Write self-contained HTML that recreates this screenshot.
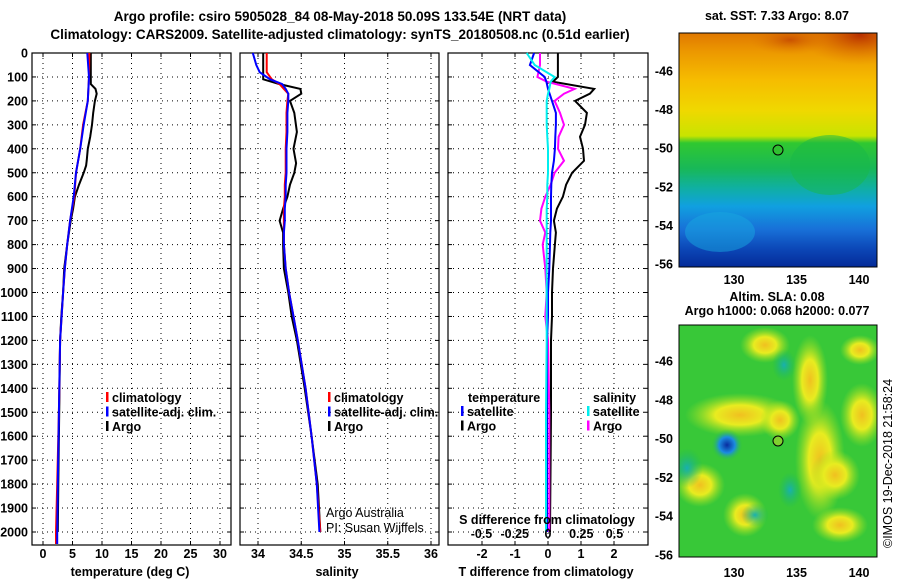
<!DOCTYPE html>
<html><head><meta charset="utf-8"><style>
body{margin:0;background:#fff;}
svg{display:block;font-family:"Liberation Sans",Arial,sans-serif;}
.b{font-weight:bold;font-size:12.5px;}
.n{font-size:12.5px;}
.t{font-weight:bold;font-size:13.5px;}
</style></head><body>
<svg id="chart" width="900" height="580" viewBox="0 0 900 580">
<defs>
<linearGradient id="sst" x1="0" y1="0" x2="0" y2="1">
<stop offset="0" stop-color="#e07800"/><stop offset="0.08" stop-color="#ec9800"/><stop offset="0.2" stop-color="#f6bc00"/>
<stop offset="0.33" stop-color="#f0d800"/><stop offset="0.44" stop-color="#c8e400"/><stop offset="0.47" stop-color="#30c830"/>
<stop offset="0.58" stop-color="#18b858"/><stop offset="0.66" stop-color="#10b0a0"/><stop offset="0.74" stop-color="#10a0e0"/>
<stop offset="0.84" stop-color="#1870d8"/><stop offset="0.92" stop-color="#0c48b8"/><stop offset="1" stop-color="#042a98"/>
</linearGradient>
<radialGradient id="redblob"><stop offset="0" stop-color="#b83000"/><stop offset="1" stop-color="#e07800" stop-opacity="0"/></radialGradient>
<radialGradient id="blueblob"><stop offset="0" stop-color="#082ca0"/><stop offset="0.5" stop-color="#1c8ce0"/><stop offset="1" stop-color="#30c830" stop-opacity="0"/></radialGradient>
<radialGradient id="yblob"><stop offset="0" stop-color="#f0c020"/><stop offset="0.45" stop-color="#e8ec20"/><stop offset="1" stop-color="#a0e020" stop-opacity="0"/></radialGradient>
<radialGradient id="cblob"><stop offset="0" stop-color="#18b0b0"/><stop offset="1" stop-color="#18b860" stop-opacity="0"/></radialGradient>
<clipPath id="m1clip"><rect x="679" y="33" width="198" height="234"/></clipPath>
<clipPath id="m2clip"><rect x="679" y="325" width="198" height="232"/></clipPath>
</defs>
<text x="340" y="21" text-anchor="middle" class="t">Argo profile: csiro 5905028_84 08-May-2018 50.09S 133.54E (NRT data)</text>
<text x="340" y="39" text-anchor="middle" class="t">Climatology: CARS2009. Satellite-adjusted climatology: synTS_20180508.nc (0.51d earlier)</text>
<g id="plots"></g>
<g>
<g clip-path="url(#m1clip)">
<rect x="679" y="33" width="198" height="234" fill="url(#sst)"/>
<ellipse cx="860" cy="35" rx="60" ry="30" fill="url(#redblob)"/>
<ellipse cx="790" cy="40" rx="40" ry="15" fill="url(#redblob)" opacity="0.6"/>
<ellipse cx="720" cy="232" rx="35" ry="20" fill="#18a8e0" opacity="0.5"/>
<ellipse cx="830" cy="165" rx="40" ry="30" fill="#18b848" opacity="0.5"/>
</g>
<circle cx="778" cy="150" r="5" fill="#30c030" stroke="#000"/>
<rect x="679" y="33" width="198" height="234" fill="none" stroke="#000"/>
</g>
<g>
<g clip-path="url(#m2clip)">
<rect x="679" y="325" width="198" height="232" fill="#38c838"/>
<ellipse cx="740" cy="415" rx="55" ry="22" fill="url(#yblob)"/>
<ellipse cx="780" cy="420" rx="20" ry="20" fill="url(#yblob)"/>
<ellipse cx="810" cy="380" rx="18" ry="45" fill="url(#yblob)"/>
<ellipse cx="820" cy="460" rx="25" ry="60" fill="url(#yblob)"/>
<ellipse cx="835" cy="475" rx="25" ry="25" fill="url(#yblob)"/>
<ellipse cx="862" cy="415" rx="22" ry="32" fill="url(#yblob)"/>
<ellipse cx="840" cy="525" rx="28" ry="18" fill="url(#yblob)"/>
<ellipse cx="745" cy="515" rx="22" ry="22" fill="url(#yblob)"/>
<ellipse cx="700" cy="485" rx="25" ry="22" fill="url(#yblob)"/>
<ellipse cx="765" cy="345" rx="25" ry="18" fill="url(#yblob)"/>
<ellipse cx="860" cy="350" rx="20" ry="15" fill="url(#yblob)"/>
<ellipse cx="727" cy="445" rx="16" ry="16" fill="url(#blueblob)"/>
<ellipse cx="687" cy="468" rx="16" ry="20" fill="url(#cblob)"/>
<ellipse cx="784" cy="365" rx="12" ry="16" fill="url(#cblob)"/>
<ellipse cx="790" cy="490" rx="12" ry="18" fill="url(#cblob)"/>
<ellipse cx="755" cy="515" rx="14" ry="12" fill="url(#cblob)"/>
</g>
<circle cx="778" cy="441" r="5" fill="#80d030" stroke="#000"/>
<rect x="679" y="325" width="198" height="232" fill="none" stroke="#000"/>
</g>
<text x="777" y="20" text-anchor="middle" class="b">sat. SST: 7.33 Argo: 8.07</text>
<text x="777" y="301" text-anchor="middle" class="b">Altim. SLA: 0.08</text>
<text x="777" y="315" text-anchor="middle" class="b">Argo h1000: 0.068 h2000: 0.077</text>
<text transform="translate(892,548) rotate(-90)" font-size="12.5">©IMOS 19-Dec-2018 21:58:24</text>
</svg>
<script>
// ---- profile data ----
const tDepth   = [0,100,130,150,170,200,250,300,350,400,450,470,500,550,600,650,700,800,900,1000,1100,1200,1400,1600,1800,2000];
const tArgo    = [8.1,8.1,8.1,8.9,9.1,8.8,8.5,8.3,8.0,7.6,7.4,7.3,6.9,6.1,5.4,5.1,4.7,4.1,3.6,3.4,3.1,2.9,2.8,2.7,2.6,2.5];
const cDepth   = [0,100,200,300,400,500,600,700,800,900,1000,1200,1500,1800,2000,2050];
const tClim    = [7.85,7.8,7.6,6.8,6.3,5.6,5.3,4.6,4.1,3.7,3.4,2.9,2.7,2.4,2.2,2.2];
const tSat     = [7.5,7.8,7.6,6.9,6.3,5.6,5.2,4.6,4.1,3.7,3.4,2.9,2.7,2.5,2.4,2.4];
const sDepth   = [0,50,80,110,130,150,170,200,250,330,400,460,500,550,600,650,700,750,800,900,1000,1100,1200,1400,1600,1800,2000];
const sArgo    = [34.06,34.06,34.06,34.06,34.25,34.49,34.5,34.37,34.42,34.45,34.41,34.44,34.42,34.37,34.34,34.29,34.25,34.29,34.29,34.30,34.35,34.39,34.45,34.54,34.62,34.69,34.72];
const sClim    = [34.10,34.10,34.10,34.16,34.25,34.30,34.35,34.34,34.33,34.33,34.32,34.32,34.32,34.31,34.31,34.30,34.30,34.30,34.30,34.32,34.36,34.41,34.46,34.55,34.62,34.68,34.72];
const sSat     = [33.94,33.98,34.02,34.14,34.28,34.32,34.35,34.35,34.34,34.34,34.33,34.33,34.33,34.32,34.32,34.31,34.31,34.30,34.30,34.32,34.36,34.41,34.46,34.55,34.62,34.68,34.71];
const dDepth   = [0,50,100,120,150,170,200,250,300,350,400,450,500,550,600,650,700,750,800,900,1000,1100,1200,1500,2000];
const dTArgo   = [0.3,0.3,0.3,0.15,1.4,1.27,0.82,1.18,1.12,0.97,1.06,1.09,0.73,0.55,0.45,0.27,0.18,0.24,0.21,0.15,0.12,0.12,0.09,0.09,0.06];
const dTSat    = [-0.42,-0.55,-0.1,-0.05,0.0,0.05,0.12,0.24,0.24,0.22,0.21,0.18,0.12,0.1,0.09,0.09,0.09,0.07,0.06,0.04,0.0,0.0,-0.03,-0.03,-0.03];
const dSArgo   = [-0.06,-0.06,-0.08,-0.01,0.2,0.12,0.05,0.09,0.12,0.08,0.075,0.12,0.05,0.02,-0.02,-0.05,-0.06,-0.02,-0.04,-0.02,-0.01,-0.02,0.0,0.01,0.01];
const dSSat    = [-0.16,-0.1,0.05,0.02,0.01,0.0,-0.01,-0.01,-0.01,-0.005,0.0,0.0,0.0,-0.005,-0.005,-0.01,-0.01,-0.01,-0.01,-0.01,-0.01,-0.01,-0.01,-0.015,-0.015];
const depthTicks = [0,100,200,300,400,500,600,700,800,900,1000,1100,1200,1300,1400,1500,1600,1700,1800,1900,2000];
const tTicks   = [0,5,10,15,20,25,30];
const sTicks   = [34,34.5,35,35.5,36];
const sTickLabels = ["34","34.5","35","35.5","36"];
const dtTicks  = [-2,-1,0,1,2];
const dsTicks  = [-0.5,-0.25,0,0.25,0.5];
const dsTickLabels = ["-0.5","-0.25","0","0.25","0.5"];
const latTicks = [-46,-48,-50,-52,-54,-56];
const lonTicks = [130,135,140];

const NS='http://www.w3.org/2000/svg';
const g=document.getElementById('plots');
function mk(tag,attrs,parent){const e=document.createElementNS(NS,tag);for(const k in attrs)e.setAttribute(k,attrs[k]);(parent||g).appendChild(e);return e;}
const TOP=53,BOT=545;
const yD=d=>TOP+d*0.2395;
const xT=v=>43+v*5.9;
const xS=v=>258+(v-34)*86.5;
const xDT=v=>548+v*33;
const xDS=v=>548+v*133;
const lonX=v=>679+(v-125.6)*12.5;
const lat1=v=>71+(-46-v)*19.3;
const lat2=v=>361+(-46-v)*19.4;

function panel(name,x0,x1,xTicksPx,labels,showY){
  const pg=mk('g',{});
  
  
  depthTicks.forEach((d,i)=>{
    const l=mk('line',{x1:x0,x2:x1,y1:yD(d),y2:yD(d),stroke:'#000','stroke-dasharray':'1,4'},pg);
    
    
    mk('line',{x1:x0,x2:x0+4,y1:yD(d),y2:yD(d),stroke:'#000'},pg);
    mk('line',{x1:x1-4,x2:x1,y1:yD(d),y2:yD(d),stroke:'#000'},pg);
    if(showY){const t=mk('text',{x:28,y:yD(d)+4.5,'text-anchor':'end',class:'b'},pg);t.textContent=d;
      
      }
  });
  xTicksPx.forEach((px,i)=>{
    mk('line',{x1:px,x2:px,y1:TOP,y2:BOT,stroke:'#000','stroke-dasharray':'1,4'},pg);
    mk('line',{x1:px,x2:px,y1:BOT-4,y2:BOT,stroke:'#000'},pg);
    mk('line',{x1:px,x2:px,y1:TOP,y2:TOP+4,stroke:'#000'},pg);
    if(labels){const t=mk('text',{x:px,y:558,'text-anchor':'middle',class:'b'},pg);t.textContent=labels[i];
      
      }
  });
  mk('rect',{x:x0,y:TOP,width:x1-x0,height:BOT-TOP,fill:'none',stroke:'#000','stroke-width':1.2},pg);
  return pg;
}
function line(depths,vals,xf,color,name,w){
  let pts=[];depths.forEach((d,i)=>{pts.push(xf(vals[i]).toFixed(1)+','+yD(d).toFixed(1));});
  const p=mk('polyline',{points:pts.join(' '),fill:'none',stroke:color,'stroke-width':w||2});
  
  
}
panel('temperature-panel',32,231,tTicks.map(xT),tTicks,true);
panel('salinity-panel',240,439,sTicks.map(xS),sTickLabels,false);
panel('difference-panel',448,648,dtTicks.map(xDT),dtTicks,false);

line(tDepth,tArgo,xT,'#000','temperature-argo-line');
line(cDepth,tClim,xT,'#f00','temperature-climatology-line');
line(cDepth,tSat,xT,'#00f','temperature-satellite-line');
line(sDepth,sArgo,xS,'#000','salinity-argo-line');
line(sDepth,sClim,xS,'#f00','salinity-climatology-line');
line(sDepth,sSat,xS,'#00f','salinity-satellite-line');
line(dDepth,dTArgo,xDT,'#000','t-diff-argo-line');
line(dDepth,dSArgo,xDS,'#f0f','s-diff-argo-line');
line(dDepth,dTSat,xDT,'#00f','t-diff-satellite-line');
line(dDepth,dSSat,xDS,'#0ee','s-diff-satellite-line');

function txt(x,y,s,cls,name,anchor){const t=mk('text',{x:x,y:y,class:cls,'text-anchor':anchor||'start'});t.textContent=s;
  
  return t;}
function legend(x,y,items,name){
  items.forEach((it,i)=>{
    const r=mk('rect',{x:x,y:y+i*14.5-10,width:2.5,height:10,fill:it[1]});
    
    
    txt(x+6,y+i*14.5,it[0],'b',name+'-label');
  });
}
legend(106,402,[['climatology','#f00'],['satellite-adj. clim.','#00f'],['Argo','#000']],'temperature-legend');
legend(328,402,[['climatology','#f00'],['satellite-adj. clim.','#00f'],['Argo','#000']],'salinity-legend');
txt(468,402,'temperature','b','diff-legend-temperature-header');
txt(593,402,'salinity','b','diff-legend-salinity-header');
legend(461,416,[['satellite','#00f'],['Argo','#000']],'diff-legend-temperature');
legend(587,416,[['satellite','#0ee'],['Argo','#f0f']],'diff-legend-salinity');
txt(326,517,'Argo Australia','n','attribution-line-1');
txt(326,532,'PI: Susan Wijffels','n','attribution-line-2');
txt(547,524,'S difference from climatology','b','s-diff-axis-title','middle');
dsTicks.forEach((v,i)=>txt(xDS(v),538,dsTickLabels[i],'b','s-diff-tick-label','middle'));
txt(130,576,'temperature (deg C)','b','temperature-axis-title','middle');
txt(337,576,'salinity','b','salinity-axis-title','middle');
txt(546,576,'T difference from climatology','b','t-diff-axis-title','middle');

function mapAxes(latf,top,bot,lonY,name){
  latTicks.forEach(v=>{const y=latf(v);
    mk('line',{x1:679,x2:683,y1:y,y2:y,stroke:'#000'});mk('line',{x1:873,x2:877,y1:y,y2:y,stroke:'#000'});
    txt(673,y+4.5,String(v),'b',name+'-lat-label','end');});
  lonTicks.forEach(v=>{const x=lonX(v);
    mk('line',{x1:x,x2:x,y1:bot-4,y2:bot,stroke:'#000'});mk('line',{x1:x,x2:x,y1:top,y2:top+4,stroke:'#000'});
    txt(x,lonY,String(v),'b',name+'-lon-label','middle');});
}
mapAxes(lat1,33,267,284,'sst-map');
mapAxes(lat2,325,557,577,'sla-map');
</script>
</body></html>
